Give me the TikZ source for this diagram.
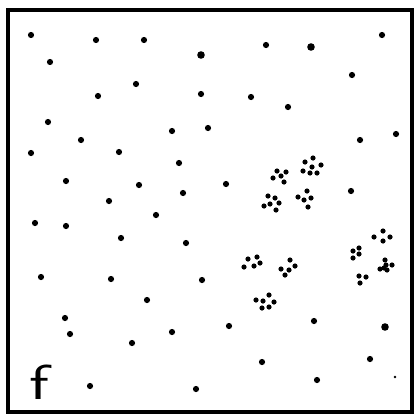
\documentclass[tikz,border=0pt]{standalone}
\usetikzlibrary{positioning}

\begin{document}
\begin{tikzpicture}[
    x=0.02cm, y=-0.02cm,
    frame/.style={draw, line width=2.3pt},
    dot/.style={fill=black},
    lbl/.style={font=\fontsize{28}{28}\selectfont\sffamily, inner sep=0pt},
]
    \useasboundingbox (0,0) rectangle (419,416);

    % Rahmen
    \draw[frame] (8,10) rectangle (412,412);

    % einzelne Punkte
    \foreach \x/\y in {31/35, 96/40, 144/40, 50/62, 136/84, 98/96, 201/94,
        48/122, 172/131, 208/128, 81/140, 31/153, 119/152, 179/163, 66/181,
        139/185, 183/193, 109/201, 266/45, 382/35, 352/75, 251/97, 288/107,
        360/140, 396/134, 226/184, 351/191, 35/223, 66/226, 156/215, 121/238,
        186/243, 41/277, 111/279, 202/280, 147/300, 65/318, 70/334, 172/332,
        132/343, 90/386, 196/389, 229/326, 314/321, 262/362, 370/359, 317/380}
        \fill[dot] (\x,\y) circle (3.1);

    % grosse Punkte
    \foreach \x/\y in {201/55, 311/47, 385/327}
        \fill[dot] (\x,\y) circle (3.8);

    % kleiner Punkt
    \fill[dot] (395,377) circle (1.4);

    % Haufen
    \foreach \x/\y in {277/171, 286/172, 273/178, 281/176, 284/182,
        313/158, 305/162, 321/165, 312/167, 303/171, 310/173, 317/173,
        268/196, 275/198, 270/204, 264/206, 279/203, 276/210,
        307/191, 298/197, 304/200, 311/198, 308/207,
        248/259, 257/257, 260/263, 254/266, 244/267,
        290/260, 281/269, 289/270, 295/266, 285/275,
        269/295, 256/300, 263/301, 274/302, 262/308, 269/307,
        383/231, 374/237, 390/237, 383/241,
        359/248, 353/251, 359/254, 353/258,
        385/260, 386/265, 392/265, 380/269, 384/268, 387/270,
        359/276, 366/277, 360/283}
        \fill[dot] (\x,\y) circle (2.6);

    % Beschriftung
    \node[lbl, xscale=1.4] (f) at (39,382) {f};
\end{tikzpicture}
\end{document}
